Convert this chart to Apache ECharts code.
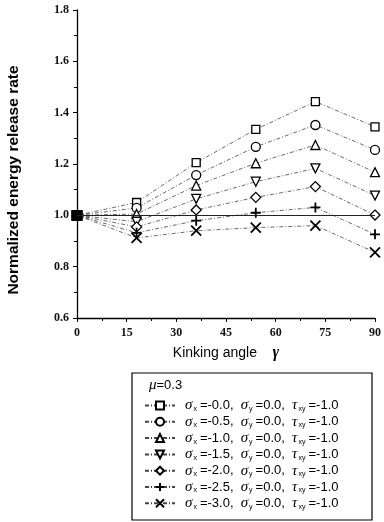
<!DOCTYPE html>
<html><head><meta charset="utf-8">
<script src="https://cdn.jsdelivr.net/npm/echarts@6/dist/echarts.min.js"></script>
<style>html,body{margin:0;padding:0;background:#fff}#c{width:384px;height:522px}</style>
</head><body><div id="c"></div>
<script>
var angles = [0, 18, 36, 54, 72, 90];
var s00 = [1.0, 1.050, 1.205, 1.335, 1.443, 1.345];
var s05 = [1.0, 1.029, 1.157, 1.267, 1.352, 1.255];
var s10 = [1.0, 1.005, 1.116, 1.203, 1.274, 1.168];
var s15 = [1.0, 0.975, 1.064, 1.131, 1.183, 1.077];
var s20 = [1.0, 0.955, 1.021, 1.070, 1.112, 1.001];
var s25 = [1.0, 0.932, 0.979, 1.010, 1.031, 0.926];
var s30 = [1.0, 0.912, 0.940, 0.952, 0.960, 0.856];
var sigmaX = ['-0.0', '-0.5', '-1.0', '-1.5', '-2.0', '-2.5', '-3.0'];
var yTicks = [0.6, 0.8, 1.0, 1.2, 1.4, 1.6, 1.8];
var xTicks = [0, 15, 30, 45, 60, 75, 90];
var refLine = 1.0;

var allVals = [s00, s05, s10, s15, s20, s25, s30];
var symbols = ['rect', 'circle', 'triangle', 'triangle', 'diamond',
  'path://M5,0L5,10M0,5L10,5', 'path://M0,0L10,10M10,0L0,10'];
var rotates = [0, 0, 0, 180, 0, 0, 0];
var sizes = [8, 9, 9, 9, 10, 10, 10];

var series = allVals.map(function (vals, i) {
  var d = vals.map(function (v, j) {
    var item = { value: [angles[j], v] };
    if (j === 0) { item.symbol = 'rect'; item.symbolRotate = 0; item.symbolSize = 9; item.itemStyle = { color: '#000' }; }
    return item;
  });
  var s = {
    name: 's' + i,
    type: 'line',
    data: d,
    symbol: symbols[i],
    symbolRotate: rotates[i],
    symbolSize: sizes[i],
    showAllSymbol: true,
    z: 3,
    lineStyle: { color: '#444', width: 0.8, type: [4, 2, 1, 2] },
    itemStyle: { color: '#fff', borderColor: '#000', borderWidth: i >= 5 ? 1.8 : 1.3 },
    animation: false
  };
  if (i === 0) {
    s.markLine = {
      silent: true, symbol: 'none', animation: false, label: { show: false },
      lineStyle: { color: '#222', width: 1, type: 'solid' },
      data: [[{ coord: [0, refLine] }, { coord: [90, refLine] }]]
    };
  }
  return s;
});

var chart = echarts.init(document.getElementById('c'));
chart.setOption({
  animation: false,
  backgroundColor: '#fff',
  grid: { left: 77, right: 5, top: 10, bottom: 204 },
  xAxis: {
    type: 'value', min: 0, max: 90, interval: 15,
    name: 'Kinking angle    {g|γ}', nameLocation: 'middle', nameGap: 27,
    nameTextStyle: { fontFamily: 'Liberation Sans', fontSize: 14, color: '#000',
      rich: { g: { fontFamily: 'Liberation Serif', fontStyle: 'italic', fontWeight: 'bold', fontSize: 16, color: '#000' } } },
    axisLine: { lineStyle: { color: '#000', width: 1.3 } },
    axisTick: { inside: false, length: 4, lineStyle: { color: '#000' } },
    minorTick: { show: true, splitNumber: 2, length: 3, lineStyle: { color: '#000' } },
    splitLine: { show: false },
    axisLabel: { fontFamily: 'Liberation Serif', fontSize: 12, fontWeight: 'bold', color: '#111', margin: 9,
      formatter: function (v) { return xTicks.indexOf(v) >= 0 ? String(v) : ''; } }
  },
  yAxis: {
    type: 'value', min: 0.6, max: 1.8, interval: 0.2,
    axisLine: { lineStyle: { color: '#000', width: 1.3 } },
    axisTick: { inside: false, length: 4, lineStyle: { color: '#000' } },
    minorTick: { show: true, splitNumber: 2, length: 3, lineStyle: { color: '#000' } },
    splitLine: { show: false },
    axisLabel: { fontFamily: 'Liberation Serif', fontSize: 12, fontWeight: 'bold', color: '#111', margin: 8,
      formatter: function (v) {
        for (var k = 0; k < yTicks.length; k++) if (Math.abs(yTicks[k] - v) < 1e-6) return yTicks[k].toFixed(1);
        return '';
      } }
  },
  legend: {
    orient: 'vertical', left: 144, top: 398, padding: 0, height: 124,
    itemWidth: 30, itemHeight: 10, itemGap: 1.3,
    data: series.map(function (s) { return s.name; }),
    formatter: function (name) {
      var i = +name.slice(1);
      return '{p|}{s|σ}{b|x}=' + sigmaX[i] + ',  {s|σ}{b|y}=0.0,  {s|τ}{b|xy}=-1.0';
    },
    textStyle: {
      fontFamily: 'Liberation Sans', fontSize: 13, color: '#000', lineHeight: 14,
      rich: {
        p: { width: 5, lineHeight: 14 },
        s: { fontFamily: 'Liberation Serif', fontStyle: 'italic', fontSize: 15, color: '#000', lineHeight: 14 },
        b: { fontFamily: 'Liberation Sans', fontSize: 7, color: '#000', verticalAlign: 'bottom', lineHeight: 14, padding: [0, 3, 0, 1] }
      }
    }
  },
  graphic: [
    { type: 'rect', shape: { x: 132, y: 373, width: 240, height: 147 },
      style: { fill: 'none', stroke: '#000', lineWidth: 1.2 }, silent: true },
    { type: 'text', x: 149, y: 385,
      style: { text: '{m|μ}=0.3', fontFamily: 'Liberation Sans', fontSize: 13, fill: '#000', verticalAlign: 'middle',
        rich: { m: { fontFamily: 'Liberation Serif', fontStyle: 'italic', fontSize: 15 } } } },
    { type: 'text', x: 14, y: 180, rotation: Math.PI / 2,
      style: { text: 'Normalized energy release rate', fontFamily: 'Liberation Sans', fontSize: 15.5,
        fontWeight: 'bold', fill: '#000', align: 'center', verticalAlign: 'middle' } }
  ],
  series: series
});
</script></body></html>
